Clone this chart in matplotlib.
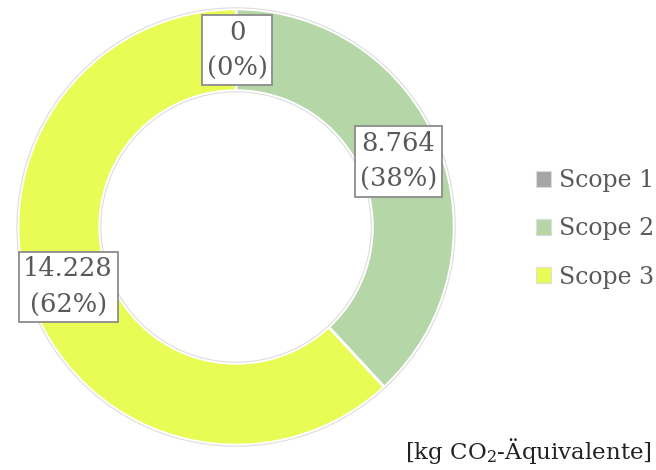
import matplotlib
matplotlib.use("Agg")
import matplotlib.pyplot as plt
from matplotlib.patches import Patch

plt.rcParams["font.family"] = ["DejaVu Serif"]
plt.rcParams["mathtext.fontset"] = "dejavuserif"

# data
scopes = ["Scope 1", "Scope 2", "Scope 3"]
values = [0, 8764, 14228]
value_labels = ["0", "8.764", "14.228"]
pct_labels = ["0%", "38%", "62%"]
colors = ["#A5A5A5", "#B5D6A7", "#E9FC55"]

txt = "#595959"

fig = plt.figure(figsize=(6.56, 4.70), dpi=100)
ax = fig.add_axes([0.0274, 0.053, 0.665, 0.928])

wedges, _ = ax.pie(values, colors=colors, startangle=90, counterclock=False,
                   radius=1.0, wedgeprops=dict(width=0.375, edgecolor="white", linewidth=2))
# faint outline of the ring
ax.pie([1], colors=["none"], radius=1.005, startangle=90,
       wedgeprops=dict(width=0.385, edgecolor="#DDDDDD", linewidth=0.8, fill=False))
ax.set_xlim(-1.0, 1.0)
ax.set_ylim(-1.0, 1.0)
ax.set_aspect("equal")
ax.axis("off")

label_pos = [(0.005, 0.81), (0.745, 0.30), (-0.77, -0.275)]
for (x, y), v, p in zip(label_pos, value_labels, pct_labels):
    ax.text(x, y, f"{v}\n({p})", ha="center", va="center", fontsize=18.5, color=txt,
            linespacing=1.55,
            bbox=dict(boxstyle="square,pad=0.18", facecolor="white", edgecolor="#8C8C8C", linewidth=1.3))

handles = [Patch(facecolor=c, edgecolor="#DDDDDD", linewidth=0.8) for c in colors]
fig.legend(handles, scopes, loc="center left", bbox_to_anchor=(0.792, 0.513), frameon=False,
           fontsize=17, labelcolor=txt, handlelength=0.65, handleheight=0.65,
           handletextpad=0.3, labelspacing=1.07, borderpad=0.2)

fig.text(0.994, 0.008, r"[kg CO$_2$-Äquivalente]", ha="right", va="bottom", fontsize=16.5, color="#222222")

fig.savefig("out.png", dpi=100)
